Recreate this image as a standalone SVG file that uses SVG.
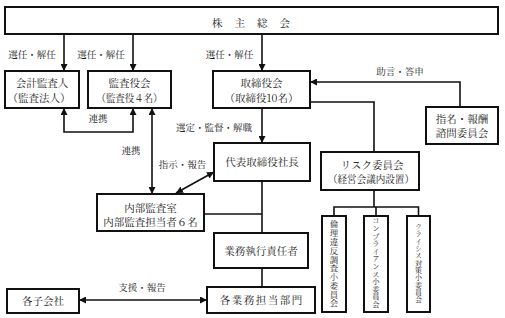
<svg xmlns="http://www.w3.org/2000/svg" width="505" height="318" viewBox="0 0 505 318">
<style>
.box{fill:#fff;stroke:#111;stroke-width:2}
.ln{fill:none;stroke:#111;stroke-width:1.6}
text{font-family:"Noto Serif CJK JP","Noto Sans CJK JP",serif;fill:#222;text-anchor:middle}
.t{font-size:10.5px}
.lb{font-size:9.5px}
.v{writing-mode:vertical-rl;text-orientation:upright;text-anchor:start}
</style>
<defs>
<marker id="ah" viewBox="0 0 10 10" refX="10" refY="5" markerWidth="7" markerHeight="7" markerUnits="userSpaceOnUse" orient="auto-start-reverse">
<path d="M0,0 L10,5 L0,10 z" fill="#111"/>
</marker>
</defs>
<rect width="505" height="318" fill="#fff"/>
<g id="connectors">
<path class="ln" d="M64,34 V71" marker-end="url(#ah)"/>
<path class="ln" d="M133,34 V71" marker-end="url(#ah)"/>
<path class="ln" d="M262,34 V71" marker-end="url(#ah)"/>
<path class="ln" d="M64,108 V132 H133 V108" marker-start="url(#ah)" marker-end="url(#ah)"/>
<path class="ln" d="M152,108 V194" marker-start="url(#ah)" marker-end="url(#ah)"/>
<path class="ln" d="M262,108 V143" marker-end="url(#ah)"/>
<path class="ln" d="M176,193 L214,172" marker-start="url(#ah)" marker-end="url(#ah)"/>
<path class="ln" d="M460,107 V82 H310" marker-end="url(#ah)"/>
<path class="ln" d="M310,102 H374 V152"/>
<path class="ln" d="M262,181 V233"/>
<path class="ln" d="M204,214 H262"/>
<path class="ln" d="M262,268 V287"/>
<path class="ln" d="M79,300 H207" marker-start="url(#ah)" marker-end="url(#ah)"/>
<path class="ln" d="M374,190 V207 M334,216 V207 H418.5 V216 M376,207 V216"/>
<text class="lb" x="32" y="58">選任・解任</text>
<text class="lb" x="101" y="58">選任・解任</text>
<text class="lb" x="229.5" y="58">選任・解任</text>
<text class="lb" x="98" y="122">連携</text>
<text class="lb" x="131" y="154">連携</text>
<text class="lb" x="214" y="131">選定・監督・解職</text>
<text class="lb" x="182.5" y="168">指示・報告</text>
<text class="lb" x="400" y="75">助言・答申</text>
<text class="lb" x="142" y="291">支援・報告</text>
</g>
<g id="n-shareholders">
<rect class="box" x="5" y="7" width="493" height="27"/>
<text class="t" x="251" y="27" letter-spacing="12" dx="6">株主総会</text>
</g>
<g id="n-auditor">
<rect class="box" x="5" y="71" width="74" height="37"/>
<text class="t" x="42" y="87">会計監査人</text>
<text class="t" x="39" y="101.5">（監査法人）</text>
</g>
<g id="n-audit-board">
<rect class="box" x="88" y="71" width="83" height="37"/>
<text class="t" x="129.5" y="87">監査役会</text>
<text class="t" x="129.5" y="101.5" textLength="66" lengthAdjust="spacingAndGlyphs">（監査役４名）</text>
</g>
<g id="n-board">
<rect class="box" x="213" y="71" width="97" height="37"/>
<text class="t" x="261.5" y="87">取締役会</text>
<text class="t" x="261.5" y="101.5">（取締役10名）</text>
</g>
<g id="n-nomination">
<rect class="box" x="426" y="107" width="72" height="37"/>
<text class="t" x="462" y="122.5">指名・報酬</text>
<text class="t" x="462" y="137">諮問委員会</text>
</g>
<g id="n-president">
<rect class="box" x="214" y="143" width="96" height="38"/>
<text class="t" x="262" y="166">代表取締役社長</text>
</g>
<g id="n-internal-audit">
<rect class="box" x="97" y="194" width="107" height="37"/>
<text class="t" x="150.5" y="211.5">内部監査室</text>
<text class="t" x="150.5" y="226">内部監査担当者６名</text>
</g>
<g id="n-risk">
<rect class="box" x="321" y="152" width="98" height="38"/>
<text class="t" x="372" y="168.5">リスク委員会</text>
<text class="t" x="371" y="183" textLength="86" lengthAdjust="spacingAndGlyphs">（経営会議内設置）</text>
</g>
<g id="n-executive">
<rect class="box" x="214" y="233" width="94" height="35"/>
<text class="t" x="261" y="254.5">業務執行責任者</text>
</g>
<g id="n-departments">
<rect class="box" x="207" y="287" width="108" height="26"/>
<text class="t" x="261" y="304" letter-spacing="1.5" dx="0.75">各業務担当部門</text>
</g>
<g id="n-subsidiaries">
<rect class="box" x="7" y="289" width="72" height="24"/>
<text class="t" x="43" y="305">各子会社</text>
</g>
<g id="n-ethics">
<rect class="box" x="322" y="216" width="24" height="96"/>
<text class="v" x="334" y="220" font-size="8.4" letter-spacing="0.4">倫理違反調査小委員会</text>
</g>
<g id="n-compliance">
<rect class="box" x="364" y="216" width="24" height="96"/>
<text class="v" x="376" y="217" font-size="7.3" letter-spacing="0.3">コンプライアンス小委員会</text>
</g>
<g id="n-crisis">
<rect class="box" x="407" y="216" width="23" height="96"/>
<text class="v" x="418.5" y="223" font-size="7" letter-spacing="0.3">クライシス対策小委員会</text>
</g>
</svg>
